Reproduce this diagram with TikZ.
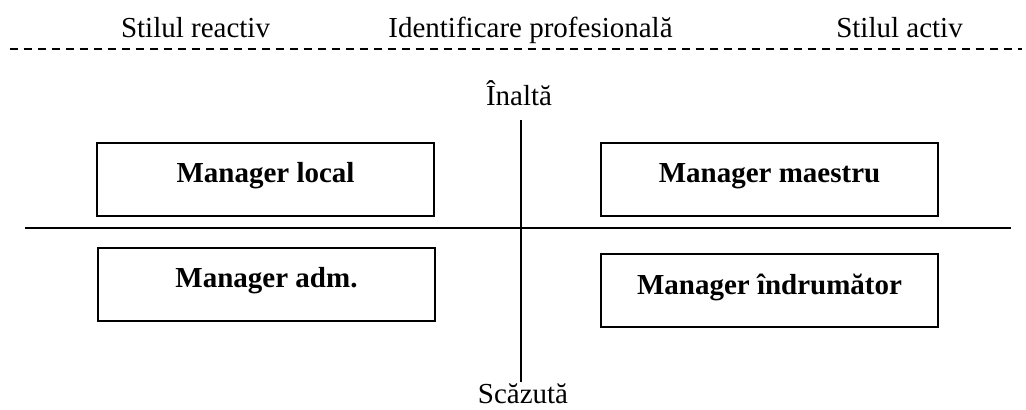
\documentclass[tikz,border=0pt]{standalone}
\usepackage{fontspec}
\setmainfont{Liberation Serif}
\begin{document}
\begin{tikzpicture}[x=0.5pt,y=-0.5pt,
  every node/.style={font=\fontsize{14.5}{17}\selectfont, inner sep=0pt},
  axislabel/.style={anchor=base},
  quadbox/.style={draw, line width=1pt, rectangle, minimum width=168.5pt,
    minimum height=36.5pt, font=\fontsize{14.5}{17}\selectfont\bfseries,
    text height=10pt, text depth=6.5pt},
  axisline/.style={line width=1pt},
  headline/.style={line width=1pt, dash pattern=on 4pt off 3pt}]
  \useasboundingbox (0,0) rectangle (1026,410);

  % header with the three style titles
  \node[axislabel] (reactiv) at (195.5,37.7) {Stilul reactiv};
  \node[axislabel] (identif) at (530.5,37.7) {Identificare profesională};
  \node[axislabel] (activ) at (899.5,37.7) {Stilul activ};
  \coordinate (dashL) at (9.5,49);
  \coordinate (dashR) at (1022,49);
  \draw[headline] (dashL) -- (dashR);

  % axes
  \node[axislabel] (high) at (519,106) {Înaltă};
  \node[axislabel] (low) at (523,403) {Scăzută};
  \coordinate (vtop) at (521,120);
  \coordinate (vbot) at (521,382);
  \coordinate (hleft) at (25,228.3);
  \coordinate (hright) at (1011,228.3);
  \draw[axisline] (vtop) -- (vbot);
  \draw[axisline] (hleft) -- (hright);

  % quadrant boxes
  \node[quadbox] (local) at (265.5,179.5) {Manager local};
  \node[quadbox] (maestru) at (769.5,179.5) {Manager maestru};
  \node[quadbox] (adm) at (266.5,284.5) {Manager adm.};
  \node[quadbox] (indrum) at (769.5,291) {Manager îndrumător};
\end{tikzpicture}
\end{document}
